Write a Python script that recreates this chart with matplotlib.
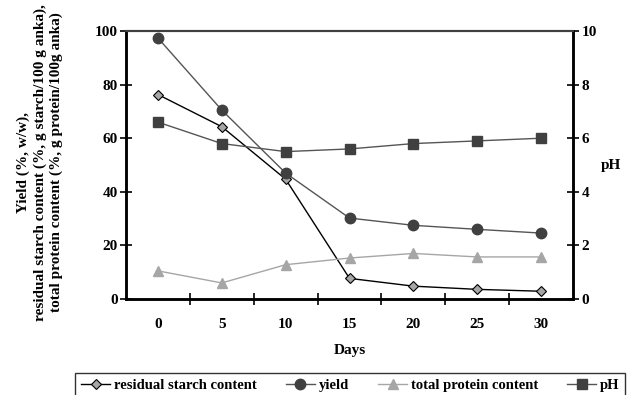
import matplotlib.pyplot as plt
import numpy as np

plt.rcParams['font.family'] = ['Liberation Serif', 'DejaVu Serif']
plt.rcParams['font.weight'] = 'bold'

days = ['0', '5', '10', '15', '20', '25', '30']
starch = [76.3, 64.3, 44.7, 7.7, 4.8, 3.6, 2.9]
yield_pct = [97.4, 70.5, 47.0, 30.2, 27.5, 26.0, 24.6]
protein = [10.5, 6.0, 12.8, 15.3, 17.0, 15.7, 15.7]
ph = [6.6, 5.8, 5.5, 5.6, 5.8, 5.9, 6.0]

x = np.arange(len(days))

fig = plt.figure(figsize=(6.29, 3.95), dpi=100)
ax = fig.add_axes([0.2003, 0.243, 0.7107, 0.6785])
ax2 = ax.twinx()

l1, = ax.plot(x, starch, color='black', lw=1, marker='D', ms=5,
              mfc='#a6a6a6', mec='black', mew=0.8, label='residual starch content')
l2, = ax.plot(x, yield_pct, color='#555555', lw=1, marker='o', ms=7.5,
              mfc='#404040', mec='#404040', label='yield')
l3, = ax.plot(x, protein, color='#a6a6a6', lw=1, marker='^', ms=7.5,
              mfc='#a6a6a6', mec='#a6a6a6', label='total protein content')
l4, = ax2.plot(x, ph, color='#555555', lw=1, marker='s', ms=7.5,
               mfc='#404040', mec='#404040', label='pH')

ax.set_xlim(-0.5, 6.5)
ax.set_ylim(0, 100)
ax2.set_ylim(0, 10)
ax.set_yticks(range(0, 101, 20))
ax2.set_yticks(range(0, 11, 2))

ax.set_xticks(x)
ax.set_xticklabels(days)
ax.set_xticks(np.arange(0.5, 6.0, 1), minor=True)
ax.tick_params(axis='x', which='major', length=0, pad=14, labelsize=11)
ax.tick_params(axis='x', which='minor', direction='inout', length=8, width=1.2)
ax.tick_params(axis='y', direction='inout', length=8, width=1.2, labelsize=11, pad=2)
ax2.tick_params(axis='y', direction='inout', length=8, width=1.2, labelsize=11, pad=2)

for a in (ax, ax2):
    for side in ('left', 'right', 'bottom'):
        a.spines[side].set_linewidth(1.8)
        a.spines[side].set_color('black')
    a.spines['top'].set_color('#404040')
    a.spines['top'].set_linewidth(1.5)

ax.set_xlabel('Days', fontsize=11, fontweight='bold', labelpad=9)
ax.set_ylabel('Yield (%, w/w),\nresidual starch content (%, g starch/100 g anka),\n'
              'total protein content (%, g protein/100g anka)',
              fontsize=11, fontweight='bold', linespacing=1.3)
ax.yaxis.set_label_coords(-0.14, 0.51)
ax2.set_ylabel('pH', fontsize=11, fontweight='bold', rotation=0, labelpad=10, va='center')

leg = fig.legend(handles=[l1, l2, l3, l4], loc='upper center', ncol=4,
                 bbox_to_anchor=(0.557, 0.073), frameon=True, fancybox=False,
                 edgecolor='black', fontsize=10.5, handlelength=2.0,
                 columnspacing=2.0, handletextpad=0.25, borderpad=0.4)
leg.get_frame().set_linewidth(1.0)

fig.savefig('out.png', dpi=100)
